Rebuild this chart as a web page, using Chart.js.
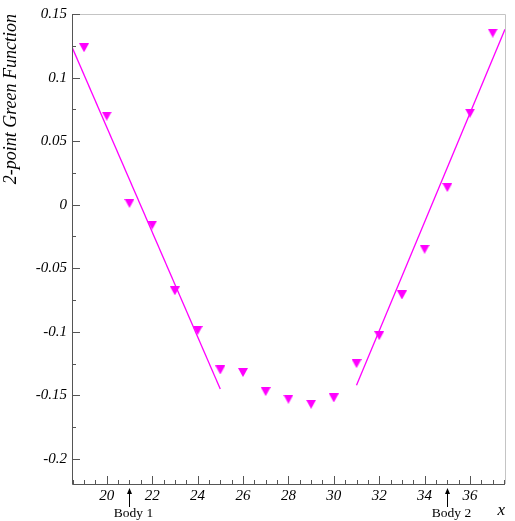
<!DOCTYPE html>
<html>
<head>
<meta charset="utf-8">
<script src="https://cdn.jsdelivr.net/npm/chart.js@4/dist/chart.umd.min.js"></script>
<style>
  html, body { margin: 0; padding: 0; background: #fff; }
  #gfPlot { display: block; }
</style>
</head>
<body>
<canvas id="gfPlot" width="515" height="521"></canvas>
<script>
// measured green function, one value per site x
const xValues = [19, 20, 21, 22, 23, 24, 25, 26, 27, 28, 29, 30, 31, 32, 33, 34, 35, 36, 37];
const gfValues = [0.1235, 0.0697, 0.001, -0.016, -0.0677, -0.099, -0.130, -0.132, -0.147, -0.153,
                  -0.157, -0.152, -0.125, -0.103, -0.071, -0.035, 0.0135, 0.072, 0.135];

// straight-line fits drawn over the two arms
const leftFitX = [18.47, 25];
const leftFitY = [0.124, -0.145];
const rightFitX = [31, 37.54];
const rightFitY = [-0.142, 0.138];

// axis ticks
const xTickValues = [20, 22, 24, 26, 28, 30, 32, 34, 36];
const yTickValues = [-0.2, -0.15, -0.1, -0.05, 0, 0.05, 0.1, 0.15];
const yTickLabels = ['-0.2', '-0.15', '-0.1', '-0.05', '0', '0.05', '0.1', '0.15'];

// body markers below the x axis
const bodyPositions = [21, 35];
const bodyLabels = ['Body 1', 'Body 2'];

const MAGENTA = '#ff00ff';
const SERIF = "'Liberation Serif', 'DejaVu Serif', serif";

function toPoints(xs, ys) {
    return xs.map((x, i) => ({ x: x, y: ys[i] }));
}

// down triangle centred on its box (chart.js 'triangle' is centred on its circumcentre)
function makeTriangle(w, h, color) {
    const c = document.createElement('canvas');
    c.width = w;
    c.height = h;
    const g = c.getContext('2d');
    g.fillStyle = color;
    g.beginPath();
    g.moveTo(0, 0);
    g.lineTo(w, 0);
    g.lineTo(w / 2, h);
    g.closePath();
    g.fill();
    return c;
}

// frame, inward ticks and the body arrows
const rootStyle = {
    id: 'rootStyle',
    afterDraw(chart) {
        const ctx = chart.ctx;
        const area = chart.chartArea;
        const xs = chart.scales.x;
        const ys = chart.scales.y;
        ctx.save();

        // light top/right frame
        ctx.strokeStyle = '#c4c4c4';
        ctx.lineWidth = 1;
        ctx.beginPath();
        ctx.moveTo(area.left, area.top + 0.5);
        ctx.lineTo(area.right + 0.5, area.top + 0.5);
        ctx.lineTo(area.right + 0.5, area.bottom);
        ctx.stroke();

        // axes
        ctx.strokeStyle = '#555';
        ctx.beginPath();
        ctx.moveTo(area.left + 0.5, area.top);
        ctx.lineTo(area.left + 0.5, area.bottom + 0.5);
        ctx.lineTo(area.right, area.bottom + 0.5);
        ctx.stroke();

        // x ticks every 0.5, long on labelled values
        ctx.beginPath();
        for (let v = Math.ceil(xs.min * 2) / 2; v <= xs.max; v += 0.5) {
            const px = Math.round(xs.getPixelForValue(v)) + 0.5;
            const len = xTickValues.includes(v) ? 8 : 4;
            ctx.moveTo(px, area.bottom);
            ctx.lineTo(px, area.bottom - len);
        }
        // y ticks every 0.025
        for (let k = Math.ceil(ys.min / 0.025); k * 0.025 <= ys.max + 1e-9; k++) {
            const v = k * 0.025;
            const py = Math.round(ys.getPixelForValue(v)) + 0.5;
            const len = (k % 2 === 0) ? 8 : 4;
            ctx.moveTo(area.left, py);
            ctx.lineTo(area.left + len, py);
        }
        ctx.stroke();

        // body arrows and labels
        ctx.fillStyle = '#000';
        ctx.strokeStyle = '#000';
        ctx.font = '13.5px ' + SERIF;
        ctx.textAlign = 'center';
        ctx.textBaseline = 'middle';
        bodyPositions.forEach((b, i) => {
            const px = Math.round(xs.getPixelForValue(b)) + 0.5;
            ctx.beginPath();
            ctx.moveTo(px, area.bottom + 9);
            ctx.lineTo(px, area.bottom + 23);
            ctx.stroke();
            ctx.beginPath();
            ctx.moveTo(px, area.bottom + 4);
            ctx.lineTo(px - 2.5, area.bottom + 10);
            ctx.lineTo(px + 2.5, area.bottom + 10);
            ctx.closePath();
            ctx.fill();
            ctx.fillText(bodyLabels[i], px + 4, area.bottom + 29);
        });
        ctx.restore();
    }
};

const marker = makeTriangle(10, 9, MAGENTA);

const ctx = document.getElementById('gfPlot').getContext('2d');
const chart = new Chart(ctx, {
    type: 'scatter',
    data: {
        datasets: [
            {
                label: 'G',
                data: toPoints(xValues, gfValues),
                pointStyle: marker,
                pointRadius: 5,
                pointHoverRadius: 5,
                backgroundColor: MAGENTA,
                borderColor: MAGENTA
            },
            {
                label: 'fit left',
                data: toPoints(leftFitX, leftFitY),
                showLine: true,
                pointRadius: 0,
                borderColor: MAGENTA,
                borderWidth: 1.3
            },
            {
                label: 'fit right',
                data: toPoints(rightFitX, rightFitY),
                showLine: true,
                pointRadius: 0,
                borderColor: MAGENTA,
                borderWidth: 1.3
            }
        ]
    },
    options: {
        responsive: false,
        animation: false,
        layout: { padding: { left: 0, top: 10, right: 10, bottom: 0 } },
        plugins: {
            legend: { display: false },
            tooltip: { enabled: false }
        },
        scales: {
            x: {
                type: 'linear',
                min: 18.47,
                max: 37.54,
                grid: { display: false, drawTicks: false },
                border: { display: false },
                afterBuildTicks: (scale) => { scale.ticks = xTickValues.map(v => ({ value: v })); },
                afterFit: (scale) => { scale.height = 37; },
                ticks: {
                    padding: 3,
                    maxRotation: 0,
                    autoSkip: false,
                    color: '#000',
                    font: { family: SERIF, size: 15, style: 'italic' }
                },
                title: {
                    display: true,
                    text: 'x',
                    align: 'end',
                    color: '#000',
                    padding: 0,
                    font: { family: SERIF, size: 17, style: 'italic' }
                }
            },
            y: {
                type: 'linear',
                min: -0.2197,
                max: 0.15,
                grid: { display: false, drawTicks: false },
                border: { display: false },
                afterBuildTicks: (scale) => { scale.ticks = yTickValues.map(v => ({ value: v })); },
                afterFit: (scale) => { scale.width = 72; },
                ticks: {
                    padding: 5,
                    autoSkip: false,
                    color: '#000',
                    font: { family: SERIF, size: 15, style: 'italic' },
                    callback: (v, i) => yTickLabels[i]
                },
                title: {
                    display: true,
                    text: '2-point Green Function',
                    align: 'end',
                    color: '#000',
                    padding: 0,
                    font: { family: SERIF, size: 18, style: 'italic' }
                }
            }
        }
    },
    plugins: [rootStyle]
});
</script>
</body>
</html>
